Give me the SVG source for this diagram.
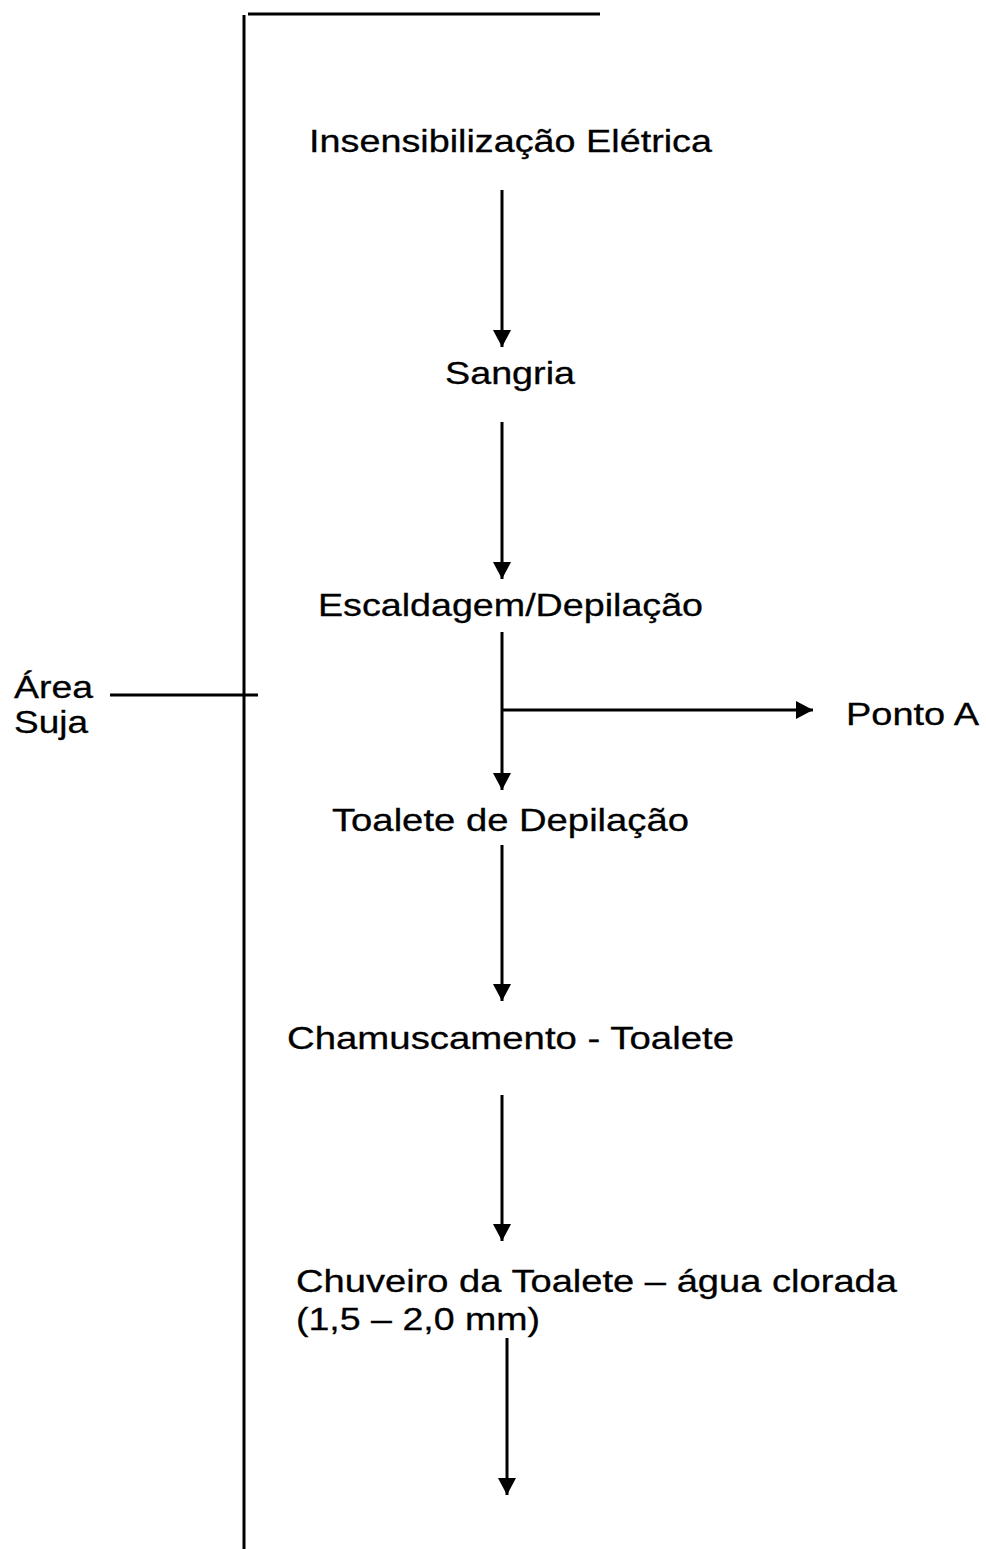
<svg xmlns="http://www.w3.org/2000/svg" width="986" height="1549" viewBox="0 0 986 1549">
<style>
text{font-family:"Liberation Sans",Arial,sans-serif;font-size:32px;fill:#000;stroke:#000;stroke-width:0.3}
.ln{stroke:#000;stroke-width:3;fill:none}
</style>
<defs>
<marker id="ah" markerWidth="18" markerHeight="18" viewBox="0 0 18 18" refX="17" refY="9" orient="auto" markerUnits="userSpaceOnUse">
<path d="M0,0 L17,9 L0,18 Z" fill="#000"/>
</marker>
</defs>
<rect width="986" height="1549" fill="#fff"/>
<g id="frame">
<line class="ln" x1="244" y1="15" x2="244" y2="1549"/>
<line class="ln" x1="248" y1="14" x2="600" y2="14"/>
<line class="ln" x1="110" y1="695" x2="258" y2="695"/>
</g>
<g id="area-suja">
<text x="14" y="698" textLength="79" lengthAdjust="spacingAndGlyphs">Área</text>
<text x="14" y="733" textLength="74" lengthAdjust="spacingAndGlyphs">Suja</text>
</g>
<g id="n1"><text x="309" y="152" textLength="403" lengthAdjust="spacingAndGlyphs">Insensibilização Elétrica</text></g>
<g id="n2"><text x="445" y="384" textLength="130" lengthAdjust="spacingAndGlyphs">Sangria</text></g>
<g id="n3"><text x="318" y="616" textLength="385" lengthAdjust="spacingAndGlyphs">Escaldagem/Depilação</text></g>
<g id="n4"><text x="332" y="831" textLength="357" lengthAdjust="spacingAndGlyphs">Toalete de Depilação</text></g>
<g id="n5"><text x="287" y="1049" textLength="447" lengthAdjust="spacingAndGlyphs">Chamuscamento - Toalete</text></g>
<g id="n6">
<text x="296" y="1292" textLength="601" lengthAdjust="spacingAndGlyphs">Chuveiro da Toalete – água clorada</text>
<text x="296" y="1330" textLength="244" lengthAdjust="spacingAndGlyphs">(1,5 – 2,0 mm)</text>
</g>
<g id="pontoA"><text x="846" y="725" textLength="133" lengthAdjust="spacingAndGlyphs">Ponto A</text></g>
<g id="connectors">
<line class="ln" x1="502" y1="190" x2="502" y2="347" marker-end="url(#ah)"/>
<line class="ln" x1="502" y1="422" x2="502" y2="579" marker-end="url(#ah)"/>
<line class="ln" x1="502" y1="632" x2="502" y2="790" marker-end="url(#ah)"/>
<line class="ln" x1="502" y1="710" x2="813" y2="710" marker-end="url(#ah)"/>
<line class="ln" x1="502" y1="845" x2="502" y2="1001" marker-end="url(#ah)"/>
<line class="ln" x1="502" y1="1095" x2="502" y2="1241" marker-end="url(#ah)"/>
<line class="ln" x1="507" y1="1338" x2="507" y2="1495" marker-end="url(#ah)"/>
</g>
</svg>
